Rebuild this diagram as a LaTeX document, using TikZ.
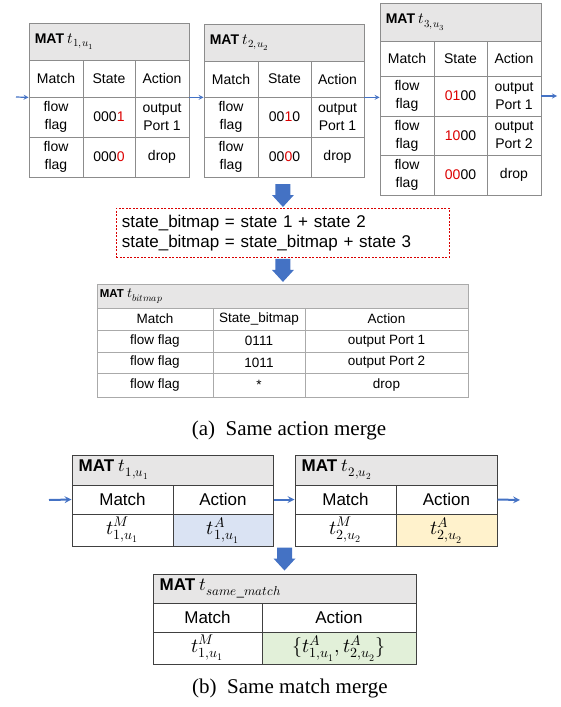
\documentclass[tikz,border=0pt]{standalone}
\usepackage{fontspec}
\usepackage{unicode-math}
\setmainfont{Liberation Serif}
\setsansfont{Liberation Sans}
\setmathfont{latinmodern-math.otf}
\usepackage{xcolor}
\usepackage{tikz}
\usetikzlibrary{positioning,calc,arrows}

\definecolor{headgray}{RGB}{231,230,230}
\definecolor{linegray}{RGB}{140,140,140}
\definecolor{lightline}{RGB}{170,170,170}
\definecolor{darkline}{RGB}{64,64,64}
\definecolor{arrowblue}{RGB}{68,114,196}
\definecolor{bitred}{RGB}{220,0,0}
\definecolor{actblue}{RGB}{218,227,243}
\definecolor{actyellow}{RGB}{255,242,204}
\definecolor{actgreen}{RGB}{226,240,217}

\tikzset{
  cell/.style={draw=linegray, line width=0.8pt, inner sep=0pt, align=center,
    font=\sffamily\fontsize{14}{18}\selectfont},
  headcell/.style={cell, fill=headgray},
  headtext/.style={anchor=west, inner sep=0pt, font=\sffamily\fontsize{14}{17}\selectfont},
  bcell/.style={cell, draw=lightline, font=\sffamily\fontsize{13.5}{16}\selectfont},
  bigcell/.style={cell, draw=darkline, line width=1pt, font=\sffamily\fontsize{17}{20}\selectfont},
  flow/.style={-stealth, arrowblue, line width=1.2pt},
  bigflow/.style={-stealth, arrowblue, line width=2pt},
  sumbox/.style={draw=red!85!black, line width=0.9pt, dash pattern=on 2pt off 1.5pt,
    anchor=north west, minimum width=333, minimum height=49, text width=322,
    align=left, inner xsep=5pt, font=\sffamily\fontsize{17}{20.5}\selectfont},
  caption/.style={font=\fontsize{21}{24}\selectfont},
  blockdown/.pic={\fill[arrowblue] (-7.5,0) -- (7.5,0) -- (7.5,11) -- (11,11) -- (0,23)
    -- (-11,11) -- (-7.5,11) -- cycle;}
}
% cell from (x1,y1) to (x2,y2)
\newcommand{\cellbox}[7][]{\node[cell, minimum width={#5-#3}, minimum height={#6-#4},#1]
  (#2) at ({(#3+#5)/2},{(#4+#6)/2}) {#7};}
\newcommand{\rb}[1]{\textcolor{bitred}{#1}}
\newcommand{\mth}[2]{{\fontsize{#1}{#1}\selectfont$#2$}}

\begin{document}
\begin{tikzpicture}[x=1pt,y=-1pt]
\useasboundingbox (0,0) rectangle (561,707);

% (a) three MATs
\cellbox[headcell]{a1h}{29}{23}{189}{60}{}
\node[headtext, right=6pt of a1h.west] (a1t) {\textbf{MAT} \mth{15.5}{t_{1,u_1}}};
\cellbox{a1m}{29}{60}{83}{97}{Match}
\cellbox{a1s}{83}{60}{135}{97}{State}
\cellbox{a1a}{135}{60}{189}{97}{Action}
\cellbox{a1m1}{29}{97}{83}{137}{flow\\flag}
\cellbox{a1s1}{83}{97}{135}{137}{000\rb{1}}
\cellbox{a1a1}{135}{97}{189}{137}{output\\Port 1}
\cellbox{a1m2}{29}{137}{83}{177}{flow\\flag}
\cellbox{a1s2}{83}{137}{135}{177}{000\rb{0}}
\cellbox{a1a2}{135}{137}{189}{177}{drop}

\cellbox[headcell]{a2h}{204}{24}{364}{61}{}
\node[headtext, right=6pt of a2h.west] (a2t) {\textbf{MAT} \mth{15.5}{t_{2,u_2}}};
\cellbox{a2m}{204}{61}{258}{97}{Match}
\cellbox{a2s}{258}{61}{311}{97}{State}
\cellbox{a2a}{311}{61}{364}{97}{Action}
\cellbox{a2m1}{204}{97}{258}{137}{flow\\flag}
\cellbox{a2s1}{258}{97}{311}{137}{00\rb{1}0}
\cellbox{a2a1}{311}{97}{364}{137}{output\\Port 1}
\cellbox{a2m2}{204}{137}{258}{177}{flow\\flag}
\cellbox{a2s2}{258}{137}{311}{177}{00\rb{0}0}
\cellbox{a2a2}{311}{137}{364}{177}{drop}

\cellbox[headcell]{a3h}{380}{3}{541}{41}{}
\node[headtext, right=6pt of a3h.west] (a3t) {\textbf{MAT} \mth{15.5}{t_{3,u_3}}};
\cellbox{a3m}{380}{41}{434}{76}{Match}
\cellbox{a3s}{434}{41}{487}{76}{State}
\cellbox{a3a}{487}{41}{541}{76}{Action}
\cellbox{a3m1}{380}{76}{434}{116}{flow\\flag}
\cellbox{a3s1}{434}{76}{487}{116}{\rb{01}00}
\cellbox{a3a1}{487}{76}{541}{116}{output\\Port 1}
\cellbox{a3m2}{380}{116}{434}{155}{flow\\flag}
\cellbox{a3s2}{434}{116}{487}{155}{\rb{10}00}
\cellbox{a3a2}{487}{116}{541}{155}{output\\Port 2}
\cellbox{a3m3}{380}{155}{434}{195}{flow\\flag}
\cellbox{a3s3}{434}{155}{487}{195}{\rb{00}00}
\cellbox{a3a3}{487}{155}{541}{195}{drop}

\coordinate (ain) at (16,97);
\coordinate (aout) at (557,96);
\draw[flow] (ain) -- (a1m.south west);
\draw[flow] (a1a.south east) -- (a2m.south west);
\draw[flow] (a2a.south east) -- (a2a.south east -| a3m1.west);
\draw[flow] (a3a1.east) -- (aout);

% state bitmap sum
\node[sumbox] (sum) at (116,208) {state\_bitmap = state 1 + state 2\\state\_bitmap = state\_bitmap + state 3};
\pic at ($(sum.north)+(0,-24)$) {blockdown};
\pic at ($(sum.south)+(0,1)$) {blockdown};

% MAT t_bitmap
\cellbox[headcell, draw=lightline]{bh}{97}{284}{468}{308}{}
\node[headtext, font=\sffamily\fontsize{11.5}{13}\selectfont, right=3pt of bh.west] (bt) {\textbf{MAT} \mth{14}{t_{bitmap}}};
\cellbox[bcell]{bm}{97}{308}{213}{330}{Match}
\cellbox[bcell]{bs}{213}{308}{305}{330}{State\_bitmap}
\cellbox[bcell]{ba}{305}{308}{468}{330}{Action}
\cellbox[bcell]{bm1}{97}{330}{213}{352}{flow flag}
\cellbox[bcell]{bs1}{213}{330}{305}{352}{0111}
\cellbox[bcell]{ba1}{305}{330}{468}{352}{output Port 1}
\cellbox[bcell]{bm2}{97}{352}{213}{373}{flow flag}
\cellbox[bcell]{bs2}{213}{352}{305}{373}{1011}
\cellbox[bcell]{ba2}{305}{352}{468}{373}{output Port 2}
\cellbox[bcell]{bm3}{97}{373}{213}{397}{flow flag}
\cellbox[bcell]{bs3}{213}{373}{305}{397}{*}
\cellbox[bcell]{ba3}{305}{373}{468}{397}{drop}

\node[caption] (capa) at (289,430) {(a)\ \ Same action merge};

% (b) same match merge
\cellbox[bigcell, fill=headgray]{c1h}{72}{455}{273}{485}{}
\node[headtext, font=\sffamily\fontsize{17}{20}\selectfont, right=7pt of c1h.west] (c1t) {\textbf{MAT} \mth{18.5}{t_{1,u_1}}};
\cellbox[bigcell]{c1m}{72}{485}{173}{514}{Match}
\cellbox[bigcell]{c1a}{173}{485}{273}{514}{Action}
\cellbox[bigcell]{c1m1}{72}{514}{173}{546}{\mth{20}{t^M_{1,u_1}}}
\cellbox[bigcell, fill=actblue]{c1a1}{173}{514}{273}{546}{\mth{20}{t^A_{1,u_1}}}

\cellbox[bigcell, fill=headgray]{c2h}{295}{455}{497}{485}{}
\node[headtext, font=\sffamily\fontsize{17}{20}\selectfont, right=7pt of c2h.west] (c2t) {\textbf{MAT} \mth{18.5}{t_{2,u_2}}};
\cellbox[bigcell]{c2m}{295}{485}{396}{514}{Match}
\cellbox[bigcell]{c2a}{396}{485}{497}{514}{Action}
\cellbox[bigcell]{c2m1}{295}{514}{396}{546}{\mth{20}{t^M_{2,u_2}}}
\cellbox[bigcell, fill=actyellow]{c2a1}{396}{514}{497}{546}{\mth{20}{t^A_{2,u_2}}}

\coordinate (bin) at (49,500);
\coordinate (bout) at (520,500);
\draw[bigflow] (bin) -- (c1m.west);
\draw[bigflow] (c1a.east) -- (c2m.west);
\draw[bigflow] (c2a.east) -- (bout);

\cellbox[bigcell, fill=headgray]{c3h}{153}{574}{416}{603}{}
\node[headtext, font=\sffamily\fontsize{17}{20}\selectfont, right=7pt of c3h.west] (c3t) {\textbf{MAT} \mth{18.5}{t_{same\_match}}};
\cellbox[bigcell]{c3m}{153}{603}{262}{632}{Match}
\cellbox[bigcell]{c3a}{262}{603}{416}{632}{Action}
\cellbox[bigcell]{c3m1}{153}{632}{262}{664}{\mth{20}{t^M_{1,u_1}}}
\cellbox[bigcell, fill=actgreen]{c3a1}{262}{632}{416}{664}{\mth{20}{\{t^A_{1,u_1},t^A_{2,u_2}\}}}
\pic at ($(c3h.north)+(0,-26)$) {blockdown};

\node[caption] (capb) at (290,688) {(b)\ \ Same match merge};

\end{tikzpicture}
\end{document}
